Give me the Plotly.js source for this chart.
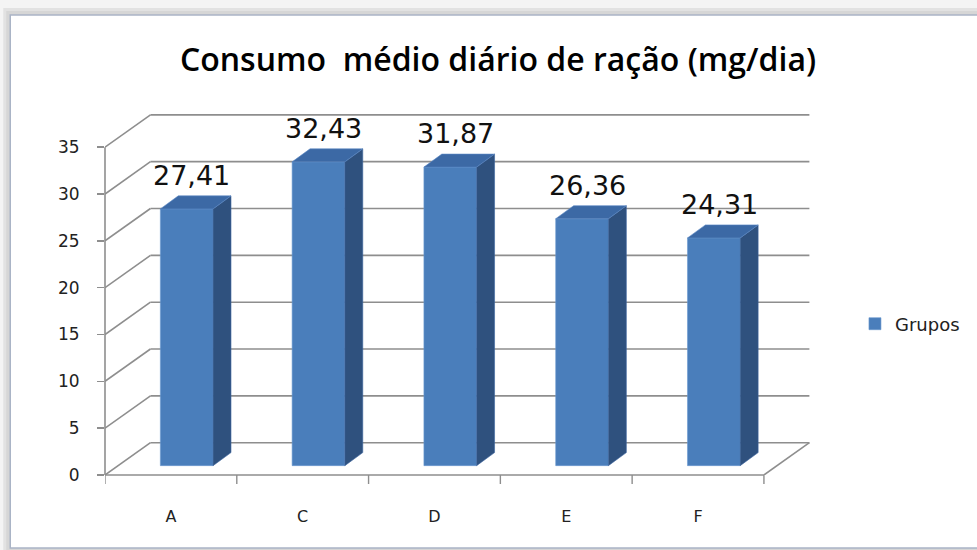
<!DOCTYPE html>
<html>
<head>
<meta charset="utf-8">
<script src="https://cdn.plot.ly/plotly-3.0.1.min.js"></script>
<style>html,body{margin:0;padding:0;background:#f4f4f4;}#chart{width:977px;height:550px;}</style>
</head>
<body>
<div id="chart"></div>
<script>
// ---- data ----
const categories = ['A', 'C', 'D', 'E', 'F'];
const values = [27.41, 32.43, 31.87, 26.36, 24.31];
const yTicks = [0, 5, 10, 15, 20, 25, 30, 35];
const seriesName = 'Grupos';
const chartTitle = 'Consumo&nbsp; médio diário de ração (mg/dia)';

// ---- geometry (pixel layout + oblique 3D projection in data units) ----
const W = 977, H = 550;
const M = {l: 105, r: 132, t: 105, b: 75};
const plotW = W - M.l - M.r, plotH = H - M.t - M.b;
const xRange = [0, 5.6], yRange = [0, 39.5];
const DX = 0.345, DY = 3.45;          // full depth offset of back wall
const FX = 0.12, FY = 1.0;            // bar front-face offset
const BW = 0.40;                      // bar width
const DDX = 0.136, DDY = 1.39;        // bar depth
const n = categories.length;
const yMax = yTicks[yTicks.length - 1];

const px2paperX = px => (px - M.l) / plotW;
const px2paperY = py => (M.t + plotH - py) / plotH;

const gridColor = '#8e8e8e';
const shapes = [];

// chart frame with soft shadow
[[7, '#e2e2e2'], [4, '#d6d6d6']].forEach(([o, c]) => {
  shapes.push({type: 'rect', xref: 'paper', yref: 'paper', layer: 'below',
    x0: px2paperX(10 - o), x1: px2paperX(1000), y0: px2paperY(548 + 2), y1: px2paperY(15 - o),
    line: {width: 0}, fillcolor: c});
});
shapes.push({type: 'rect', xref: 'paper', yref: 'paper', layer: 'below',
  x0: px2paperX(10), x1: px2paperX(1000), y0: px2paperY(548), y1: px2paperY(15),
  line: {color: '#aab4c6', width: 1.5}, fillcolor: '#ffffff'});

// back wall gridlines and side wall diagonals
yTicks.forEach(v => {
  shapes.push({type: 'line', xref: 'x', yref: 'y', layer: 'below',
    x0: DX, x1: n + DX, y0: v + DY, y1: v + DY, line: {color: gridColor, width: 1.6}});
  shapes.push({type: 'line', xref: 'x', yref: 'y', layer: 'below',
    x0: 0, x1: DX, y0: v, y1: v + DY, line: {color: gridColor, width: 1.6}});
});
// floor right edge
shapes.push({type: 'line', xref: 'x', yref: 'y', layer: 'below',
  x0: n, x1: n + DX, y0: 0, y1: DY, line: {color: gridColor, width: 1.6}});
// front x axis line (floor front edge)
shapes.push({type: 'line', xref: 'x', yref: 'paper', layer: 'below',
  x0: 0, x1: n, y0: 0, y1: 0, line: {color: gridColor, width: 1.6}});
// x axis tick marks at category boundaries
for (let i = 0; i <= n; i++) {
  shapes.push({type: 'line', xref: 'x', yref: 'paper', layer: 'below',
    x0: i, x1: i, y0: 0, y1: -9 / plotH, line: {color: gridColor, width: 1.4}});
}
// front y axis line
shapes.push({type: 'line', xref: 'paper', yref: 'y', layer: 'below',
  x0: 0, x1: 0, y0: 0, y1: yMax, line: {color: gridColor, width: 1.6}});

// bar top and side faces
const xs = categories.map((c, i) => i + 0.5 + FX);
values.forEach((v, i) => {
  const x0 = xs[i] - BW / 2, x1 = xs[i] + BW / 2, yt = v + FY;
  shapes.push({type: 'path', xref: 'x', yref: 'y', layer: 'above',
    path: `M${x1},${FY} L${x1},${yt} L${x1 + DDX},${yt + DDY} L${x1 + DDX},${FY + DDY} Z`,
    fillcolor: '#2f517e', line: {color: '#3d64a0', width: 0.6}});
  shapes.push({type: 'path', xref: 'x', yref: 'y', layer: 'above',
    path: `M${x0},${yt} L${x1},${yt} L${x1 + DDX},${yt + DDY} L${x0 + DDX},${yt + DDY} Z`,
    fillcolor: '#3c69a5', line: {color: '#5a88c4', width: 0.6}});
});

// data labels
const annotations = values.map((v, i) => ({
  x: xs[i] + 0.04, y: v + FY + DDY, xref: 'x', yref: 'y',
  text: v.toFixed(2).replace('.', ','), showarrow: false,
  xanchor: 'center', yanchor: 'bottom', yshift: 3,
  font: {family: 'DejaVu Sans', size: 27, color: '#111111'}
}));

const traces = [{
  type: 'bar', name: seriesName, x: xs, y: values, base: FY, width: BW,
  marker: {color: '#4a7ebb', line: {color: '#6a98d0', width: 0.6}},
  hoverinfo: 'skip', showlegend: true
}];

const layout = {
  width: W, height: H,
  margin: M,
  paper_bgcolor: '#f4f4f4', plot_bgcolor: 'rgba(0,0,0,0)',
  title: {text: chartTitle, x: 498 / W, xref: 'container', xanchor: 'center',
    y: 1 - 60 / H, yref: 'container', yanchor: 'middle',
    font: {family: 'Open Sans', size: 32, weight: 600, color: '#000000'}},
  xaxis: {range: xRange, tickvals: categories.map((c, i) => i + 0.5), ticktext: categories,
    showgrid: false, zeroline: false, showline: false, ticks: '', ticklabelstandoff: 30,
    tickfont: {family: 'DejaVu Sans', size: 16, color: '#222222'}, fixedrange: true},
  yaxis: {range: yRange, tickvals: yTicks, ticktext: yTicks.map(String),
    showgrid: false, zeroline: false, showline: false,
    ticks: 'outside', ticklen: 7, tickwidth: 1.4, tickcolor: gridColor, ticklabelstandoff: 14,
    tickfont: {family: 'DejaVu Sans', size: 17, color: '#222222'}, fixedrange: true},
  legend: {x: px2paperX(857), xanchor: 'left', y: px2paperY(324), yanchor: 'middle',
    bgcolor: 'rgba(0,0,0,0)', font: {family: 'DejaVu Sans', size: 18, color: '#222222'}},
  shapes: shapes,
  annotations: annotations,
  bargap: 0
};

Plotly.newPlot('chart', traces, layout, {displayModeBar: false, staticPlot: true});
</script>
</body>
</html>
